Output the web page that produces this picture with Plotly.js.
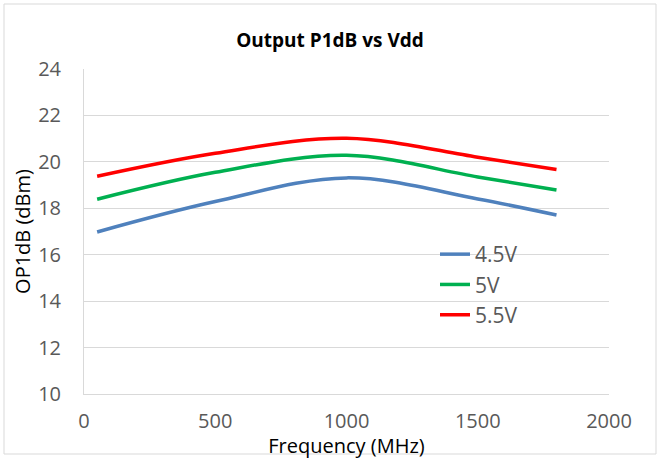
<!DOCTYPE html>
<html>
<head>
<meta charset="utf-8">
<script src="https://cdn.plot.ly/plotly-3.0.1.min.js"></script>
<style>html,body{margin:0;padding:0;background:#fff;}#chart{width:660px;height:459px;}</style>
</head>
<body>
<div id="chart"></div>
<script>
const freq = [50, 500, 1000, 1500, 1800];
const v45 = [16.98, 18.29, 19.31, 18.40, 17.71];
const v5 = [18.39, 19.55, 20.28, 19.35, 18.79];
const v55 = [19.38, 20.37, 21.02, 20.20, 19.67];
const names = ['4.5V', '5V', '5.5V'];
const colors = ['#4f81bd', '#00b050', '#ff0000'];
const series = [v45, v5, v55];

const traces = series.map((s, i) => ({
  x: freq, y: s, name: names[i], type: 'scatter', mode: 'lines',
  line: {color: colors[i], width: 3.5, shape: 'spline', smoothing: 1}
}));

const W = 660, H = 459, L = 84, R = 51, T = 69, B = 65;
const pw = W - L - R, ph = H - T - B;
const layout = {
  width: W, height: H,
  margin: {l: L, r: R, t: T, b: B, pad: 0},
  paper_bgcolor: '#fff', plot_bgcolor: '#fff',
  font: {family: 'Open Sans, sans-serif', color: '#595959', size: 20},
  title: {text: '<b>Output P1dB vs Vdd</b>', font: {size: 19, color: '#000'}, x: 0.5, xanchor: 'center', y: 1 - 40 / H, yanchor: 'middle'},
  xaxis: {range: [0, 2000], tickvals: [0, 500, 1000, 1500, 2000], showgrid: false, zeroline: false,
    showline: true, linecolor: '#d9d9d9', linewidth: 1, ticks: 'outside', ticklen: 9, tickcolor: 'rgba(0,0,0,0)',
    tickfont: {size: 20, color: '#595959'}, automargin: false,
    title: {text: 'Frequency (MHz)', font: {size: 20, color: '#000'}, standoff: 2}},
  yaxis: {range: [10, 24], dtick: 2, showgrid: true, gridcolor: '#d9d9d9', gridwidth: 1, zeroline: false,
    showline: true, linecolor: '#d9d9d9', linewidth: 1, ticks: 'outside', ticklen: 18, tickcolor: 'rgba(0,0,0,0)',
    tickfont: {size: 20, color: '#595959'}, automargin: false,
    title: {text: 'OP1dB (dBm)', font: {size: 20, color: '#000'}, standoff: 2}},
  legend: {x: (435 - L) / pw, y: (H - B - 234) / ph, xanchor: 'left', yanchor: 'top',
    bgcolor: 'rgba(0,0,0,0)', font: {size: 21, color: '#595959'}, tracegroupgap: 0},
  showlegend: true,
  shapes: [{type: 'rect', xref: 'paper', yref: 'paper',
    x0: (4 - L) / pw, x1: (656 - L) / pw, y0: (H - B - (H - 5)) / ph, y1: (H - B - 4) / ph,
    line: {color: '#d9d9d9', width: 1}, fillcolor: 'rgba(0,0,0,0)', layer: 'below'}]
};
Plotly.newPlot('chart', traces, layout, {displayModeBar: false, staticPlot: true});
</script>
</body>
</html>
